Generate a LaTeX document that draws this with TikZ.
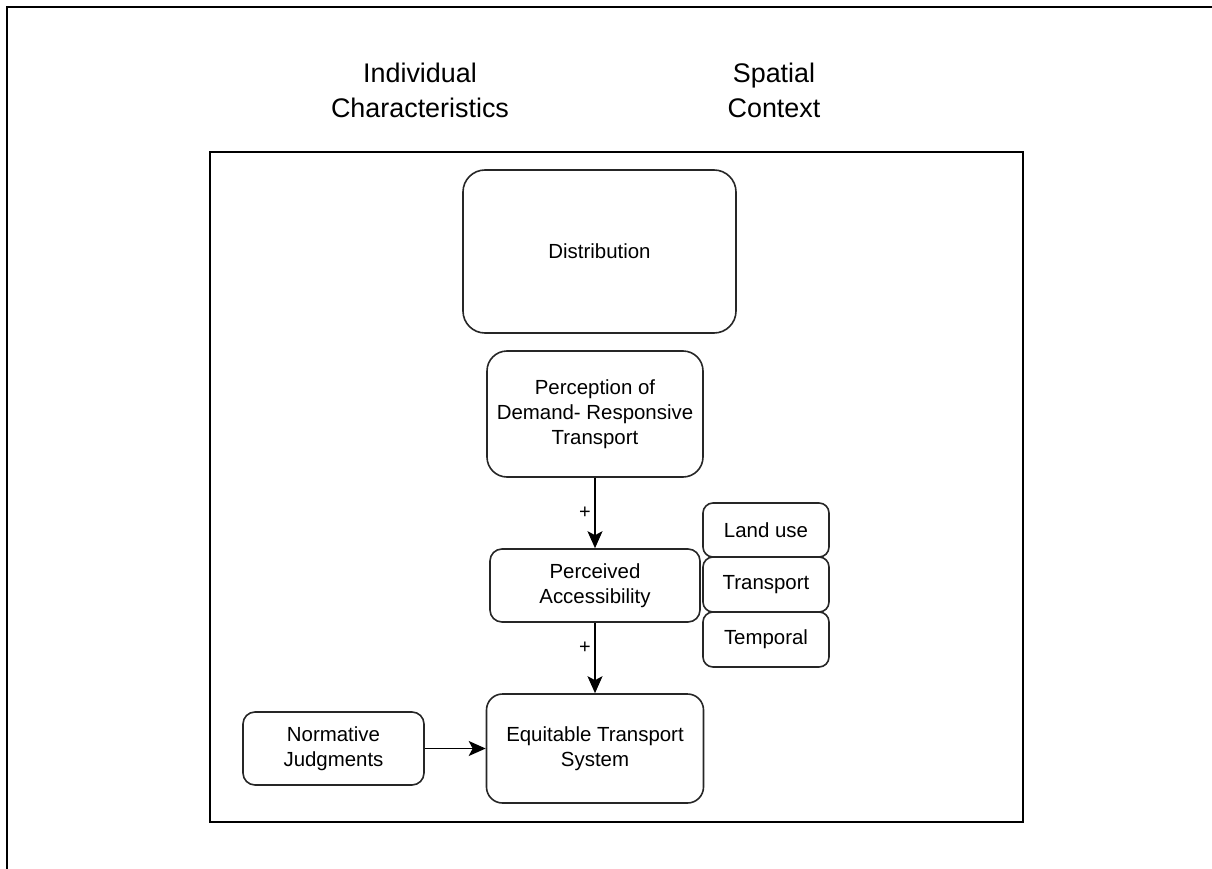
\documentclass[tikz,border=0pt]{standalone}
\usepackage{fontspec}
\setmainfont{Liberation Sans}
\usetikzlibrary{arrows.meta}
\begin{document}
\begin{tikzpicture}[x=1bp,y=-1bp,
  box/.style={draw=black!85, line width=1.6bp, rounded corners=#1, align=center,
    inner sep=0pt, font=\fontsize{20.5}{25}\selectfont},
  box/.default=12bp,
  heading/.style={align=center, inner sep=0pt, font=\fontsize{27}{35}\selectfont},
  flow/.style={line width=1.7bp, -{Stealth[length=17bp,width=15bp,inset=4bp]}},
  sign/.style={font=\fontsize{20}{20}\selectfont, inner sep=0pt}
]
\useasboundingbox (0,0) rectangle (1212,869);
% page frame and panel
\draw[line width=2.6bp] (7,869) -- (7,7) -- (1212,7);
\draw[line width=1.5bp] (210,152) rectangle (1023,822);

% headings
\node[heading] (ind) at (420,90) {Individual\\Characteristics};
\node[heading] (spa) at (774,90) {Spatial\\Context};

% boxes
\node[box=22bp, minimum width=273bp, minimum height=163bp] (dist) at (599.5,251.5) {Distribution};
\node[box=20bp, minimum width=216bp, minimum height=126bp] (perc) at (595,414) {Perception of\\Demand- Responsive\\Transport};
\node[box=12bp, minimum width=210bp, minimum height=73bp] (pa) at (595,585.5) {Perceived\\Accessibility};
\node[box=16bp, minimum width=217bp, minimum height=109bp] (ets) at (595,748.5) {Equitable Transport\\System};
\node[box=12bp, minimum width=181bp, minimum height=73bp] (nj) at (333.5,748.5) {Normative\\Judgments};
\node[box=10bp, minimum width=126bp, minimum height=54bp] (lu) at (766,530) {Land use};
\node[box=10bp, minimum width=126bp, minimum height=55bp] (tr) at (766,584.5) {Transport};
\node[box=10bp, minimum width=126bp, minimum height=55bp] (te) at (766,639.5) {Temporal};

% connectors
\draw[flow] (perc.south) -- node[sign, pos=0.5, xshift=-10bp] {+} (pa.north);
\draw[flow] (pa.south) -- node[sign, pos=0.36, xshift=-10bp] {+} (ets.north);
\draw[flow] (nj.east) -- (ets.west);
\end{tikzpicture}
\end{document}
